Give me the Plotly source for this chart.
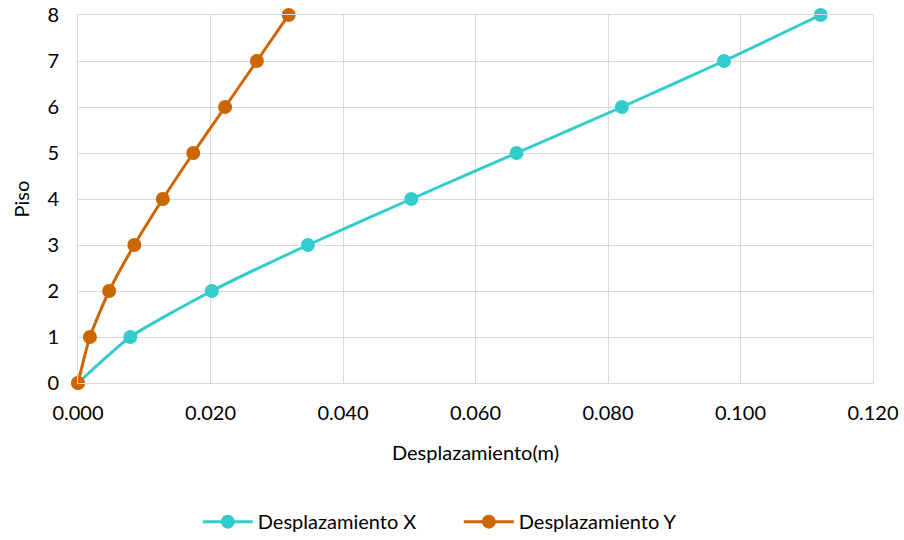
import plotly.graph_objects as go

# Storey displacements (m) per floor
pisos = [0, 1, 2, 3, 4, 5, 6, 7, 8]
desp_x = [0.0, 0.0079, 0.0202, 0.0347, 0.0503, 0.0662, 0.0821, 0.0975, 0.1121]
desp_y = [0.0, 0.0018, 0.0047, 0.0085, 0.0128, 0.0174, 0.0222, 0.0270, 0.0318]

x_ticks = [0.0, 0.02, 0.04, 0.06, 0.08, 0.10, 0.12]
y_ticks = [0, 1, 2, 3, 4, 5, 6, 7, 8]

FONT = "Lato, Open Sans, sans-serif"
GRID = "#d9d9d9"
FS = 20

fig = go.Figure()
fig.add_trace(go.Scatter(
    x=desp_x, y=pisos, name="Desplazamiento X", mode="lines+markers",
    line=dict(color="#33cccc", width=3, shape="spline", smoothing=0.6),
    marker=dict(color="#33cccc", size=14), cliponaxis=False,
))
fig.add_trace(go.Scatter(
    x=desp_y, y=pisos, name="Desplazamiento Y", mode="lines+markers",
    line=dict(color="#cc6600", width=3, shape="spline", smoothing=0.6),
    marker=dict(color="#cc6600", size=14), cliponaxis=False,
))

fig.update_layout(
    width=904, height=540,
    margin=dict(l=78, r=31, t=15, b=157, autoexpand=False),
    paper_bgcolor="white", plot_bgcolor="white",
    font=dict(family=FONT, size=FS, color="#000000"),
    showlegend=True,
    legend=dict(orientation="h", x=0.479, xanchor="center",
                yref="container", y=0.034, yanchor="middle",
                font=dict(size=FS), itemwidth=50, entrywidth=196,
                traceorder="normal"),
    xaxis=dict(
        range=[0, 0.12], tickvals=x_ticks, tickformat=".3f", automargin=False,
        showgrid=True, gridcolor=GRID, gridwidth=1,
        showline=True, linecolor=GRID, linewidth=1, mirror=True,
        zeroline=False, ticks="", ticklabelstandoff=12,
        title=dict(text="Desplazamiento(m)", font=dict(size=FS), standoff=22),
    ),
    yaxis=dict(
        range=[0, 8], tickvals=y_ticks, automargin=False,
        showgrid=True, gridcolor=GRID, gridwidth=1,
        showline=True, linecolor=GRID, linewidth=1, mirror=True,
        zeroline=False, ticks="", ticklabelstandoff=14,
        title=dict(text="Piso", font=dict(size=FS), standoff=12),
    ),
)

fig.write_html("out.html")
